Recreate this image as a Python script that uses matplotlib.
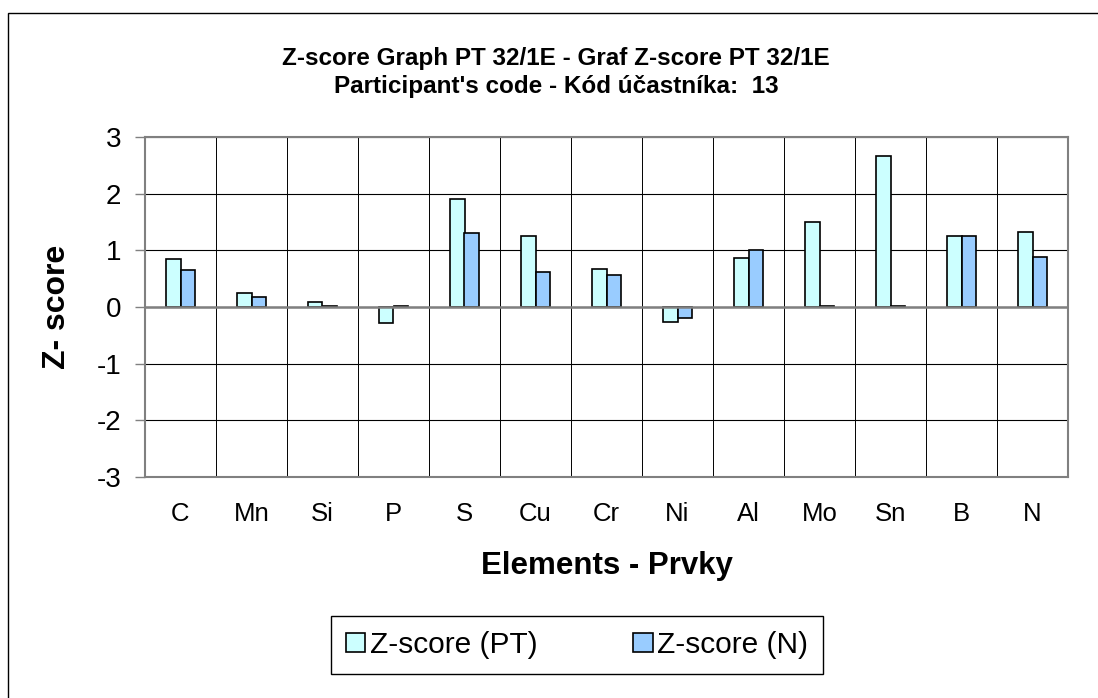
import matplotlib
matplotlib.use("Agg")
from matplotlib import pyplot as plt
from matplotlib.patches import Rectangle
import numpy as np

plt.rcParams['font.family'] = ['Liberation Sans', 'DejaVu Sans']
plt.rcParams['axes.unicode_minus'] = False

elements = ["C", "Mn", "Si", "P", "S", "Cu", "Cr", "Ni", "Al", "Mo", "Sn", "B", "N"]
z_pt = [0.85, 0.25, 0.08, -0.28, 1.91, 1.25, 0.67, -0.27, 0.86, 1.50, 2.67, 1.25, 1.33]
z_n = [0.65, 0.18, 0.02, 0.02, 1.31, 0.62, 0.56, -0.20, 1.00, 0.02, 0.02, 1.25, 0.88]

W, H = 1098, 698
fig = plt.figure(figsize=(W / 100, H / 100), dpi=100)
# axes box in pixels: left 145, right 1068, top 137, bottom 477
ax = fig.add_axes([145 / W, 1 - 477 / H, (1068 - 145) / W, (477 - 137) / H])

# outer chart frame (only top and left edges visible)
fig.patches.append(Rectangle((8 / W, -0.1), 1.2, 1 - 13 / H + 0.1, transform=fig.transFigure,
                             fill=False, edgecolor="black", linewidth=1.0))

x = np.arange(len(elements))
w = 0.2
ax.bar(x - w / 2, z_pt, w, color="#CCFFFF", edgecolor="black", linewidth=1.2,
       label="Z-score (PT)", zorder=3)
ax.bar(x + w / 2, z_n, w, color="#99CCFF", edgecolor="black", linewidth=1.2,
       label="Z-score (N)", zorder=3)

ax.set_xlim(-0.5, len(elements) - 0.5)
ax.set_ylim(-3, 3)
ax.set_yticks(range(-3, 4))
ax.set_xticks(x)
ax.set_xticklabels(elements)
ax.set_xticks(np.arange(-0.5, len(elements)), minor=True)

ax.grid(True, which="major", axis="y", color="black", linewidth=0.8, zorder=0)
ax.grid(True, which="minor", axis="x", color="black", linewidth=0.7, zorder=0)
ax.axhline(0, color="#808080", linewidth=1.8, zorder=4)

for s in ax.spines.values():
    s.set_color("#808080")
    s.set_linewidth(1.5)

ax.tick_params(axis="x", which="both", length=0, pad=18, labelsize=18.5)
ax.tick_params(axis="y", length=7, width=1, color="#808080", pad=10, labelsize=20)

ax.set_ylabel("Z- score", fontsize=23, fontweight="bold")
ax.yaxis.set_label_coords(-0.079, 0.5)
ax.set_xlabel("Elements - Prvky", fontsize=22.5, fontweight="bold")
ax.xaxis.set_label_coords(0.5, -0.263)
ax.xaxis.label.set_va("center")

fig.text(556 / W, 1 - 58 / H, "Z-score Graph PT 32/1E - Graf Z-score PT 32/1E",
         ha="center", va="center", fontsize=17.5, fontweight="bold")
fig.text(556 / W, 1 - 87 / H, "Participant's code - Kód účastníka:  13",
         ha="center", va="center", fontsize=17.5, fontweight="bold")

fig.legend(loc="center", bbox_to_anchor=(577 / W, 1 - 645 / H), ncol=2, fontsize=21.5,
           frameon=True, fancybox=False, edgecolor="black", framealpha=1,
           handlelength=0.65, handleheight=0.65, handletextpad=0.15, columnspacing=3.2,
           borderpad=0.5, borderaxespad=0)

fig.savefig("out.png", dpi=100)
